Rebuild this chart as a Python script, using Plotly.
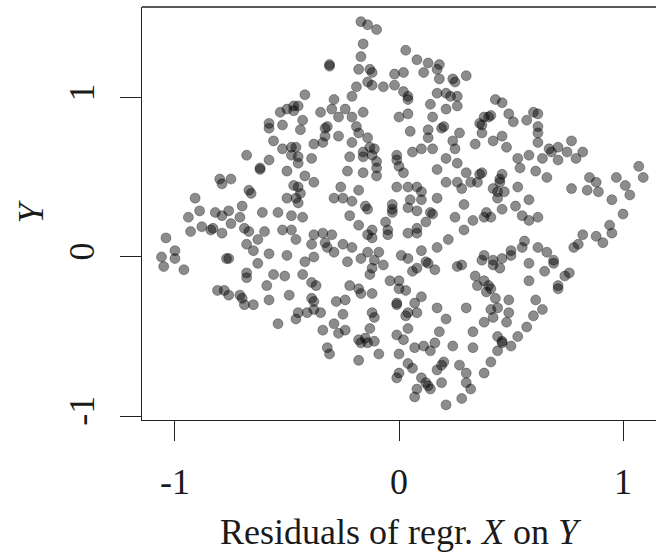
import plotly.graph_objects as go

# Residuals of regression of X on Y (horizontal) and Y (vertical)
x_resid = [
    -0.42, -0.53, -0.50, -0.47, -0.45, -0.47, -0.58, -0.58, -0.52, -0.43, -0.44, -0.56, -0.52, -0.48, -0.46, -0.48,
    -0.45, -0.38, -0.39, -0.68, -0.58, -0.62, -0.62, -0.50, -0.45, -0.42, -0.38, -0.80, -0.75, -0.79, -0.47, -0.45,
    -0.44, -0.46, -0.45, -0.50, -0.67, -0.66, -0.70, -0.91, -0.89, -0.94, -0.82, -0.79, -0.76, -0.71, -0.61, -0.54,
    -0.48, -0.43,
    -0.93, -0.88, -0.84, -0.83, -0.79, -0.75, -0.69, -0.67, -0.63, -0.68, -0.65, -0.60, -0.52, -0.48, -0.46, -0.39,
    -0.38, -1.04, -1.06, -1.05, -1.00, -1.00, -0.96, -0.77, -0.76, -0.58, -0.63, -0.50, -0.42, -0.38, -0.68, -0.68,
    -0.56, -0.51, -0.43, -0.39, -0.37, -0.59, -0.49, -0.58, -0.39, -0.81, -0.78, -0.76, -0.71, -0.70, -0.69, -0.65,
    -0.45, -0.41, -0.46, -0.38, -0.54,
    -0.17, -0.14, -0.10, -0.16, -0.17, 0.03, 0.08, 0.13, 0.18, 0.30, -0.31, -0.31, -0.18, -0.13, -0.12, -0.02,
    0.02, 0.11, 0.17, 0.18, 0.24, 0.25, -0.19, -0.14, -0.12, -0.07, -0.02, 0.02, 0.04, 0.04, 0.17, 0.21,
    0.23, 0.26, -0.21, -0.29, -0.30, -0.35, -0.24, -0.27, -0.16, -0.21, -0.19, -0.18, 0.00, 0.04, 0.05, 0.14,
    0.15, 0.21, 0.26, 0.19, 0.20, 0.13, 0.13, 0.27, 0.36, 0.38, -0.32, -0.33, -0.33, -0.34, -0.27, -0.21,
    -0.14, -0.13, -0.11, -0.12, -0.10, -0.10, -0.16, -0.16, -0.22, -0.23, -0.16, -0.10, -0.01, -0.01, 0.00, 0.02,
    0.06, 0.10, 0.15, 0.24, 0.25, 0.21, 0.26, 0.17, 0.30, 0.34, 0.37, -0.26, -0.18, -0.29, -0.25, -0.21,
    -0.15, -0.14, -0.22, -0.01, 0.04, 0.08, 0.10, 0.10, 0.05, 0.04, 0.08, 0.17, 0.21, 0.26, 0.28, 0.29,
    0.32, 0.35, 0.36, -0.03, -0.03, -0.03, 0.14, 0.15, 0.25,
    -0.18, -0.14, -0.12, -0.12, -0.06, -0.05, -0.05, 0.04, 0.08, 0.08, 0.12, 0.29, 0.33, 0.38, -0.34, -0.30,
    -0.33, -0.32, -0.29, -0.25, -0.21, -0.23, -0.17, -0.14, -0.09, -0.11, -0.07, -0.12, -0.13, 0.01, 0.04, 0.10,
    0.12, 0.13, 0.16, 0.08, 0.06, 0.17, 0.22, 0.26, 0.28, 0.34, 0.35, -0.04, 0.00, 0.00, 0.03, -0.22,
    -0.18, -0.17, -0.12, -0.01, -0.01, 0.04, 0.03, 0.08, 0.10, 0.07, 0.17, 0.21, 0.30, -0.12, -0.11, -0.13,
    -0.25, -0.28, -0.24, -0.29, -0.38, -0.35, -0.34, -0.27, -0.24, -0.32, -0.31, -0.17, -0.18, -0.15, -0.14, -0.11,
    -0.09, -0.18, -0.01, 0.02, 0.04, 0.00, 0.07, 0.11, 0.14, 0.16, 0.18, 0.24, 0.33, 0.33, 0.38, 0.04,
    0.06, 0.00, -0.01, 0.10, 0.12, 0.13, 0.14, 0.08, 0.07, 0.17, 0.19, 0.20, 0.19, 0.21, 0.27, 0.30,
    0.30, 0.32, 0.28, 0.38,
    0.43, 0.46, 0.40, 0.41, 0.37, 0.37, 0.49, 0.51, 0.57, 0.60, 0.62, 0.62, 0.62, 0.62, 0.42, 0.46,
    0.48, 0.53, 0.58, 0.54, 0.61, 0.66, 0.64, 0.67, 0.68, 0.71, 0.71, 0.77, 0.75, 0.79, 0.82, 0.46,
    0.45, 0.45, 0.42, 0.44, 0.47, 0.53, 0.44, 0.58, 0.52, 0.46, 0.39, 0.55, 0.62, 0.77, 0.85, 0.88,
    0.84, 0.89, 0.95, 0.97, 1.01, 1.03, 1.07, 1.09, 1.00,
    0.41, 0.58, 0.94, 0.95, 0.88, 0.91, 0.82, 0.80, 0.78, 0.56, 0.55, 0.50, 0.50, 0.46, 0.42, 0.38,
    0.42, 0.45, 0.37, 0.62, 0.66, 0.69, 0.69, 0.65, 0.58, 0.58, 0.76, 0.74, 0.71, 0.71, 0.38, 0.40,
    0.39, 0.41, 0.43, 0.44, 0.41, 0.49, 0.48, 0.49, 0.42, 0.61, 0.64, 0.60, 0.57, 0.53, 0.50, 0.46,
    0.44, 0.46, 0.44, 0.41,
]

y_vals = [
    1.02, 0.91, 0.93, 0.95, 0.95, 0.92, 0.84, 0.81, 0.83, 0.86, 0.80, 0.73, 0.68, 0.69, 0.69, 0.64,
    0.63, 0.71, 0.62, 0.64, 0.61, 0.56, 0.55, 0.54, 0.59, 0.51, 0.47, 0.49, 0.49, 0.46, 0.45, 0.44,
    0.40, 0.37, 0.34, 0.37, 0.42, 0.40, 0.32, 0.37, 0.29, 0.25, 0.28, 0.26, 0.29, 0.25, 0.28, 0.28,
    0.26, 0.25,
    0.16, 0.19, 0.17, 0.18, 0.15, 0.21, 0.18, 0.16, 0.11, 0.08, 0.04, 0.16, 0.17, 0.17, 0.11, 0.08,
    0.14, 0.12, 0.00, -0.06, 0.04, -0.01, -0.08, -0.01, -0.01, 0.02, -0.04, 0.01, -0.03, 0.00, -0.10, -0.13,
    -0.11, -0.12, -0.11, -0.16, -0.18, -0.18, -0.24, -0.27, -0.26, -0.21, -0.21, -0.24, -0.24, -0.26, -0.30, -0.30,
    -0.35, -0.35, -0.39, -0.33, -0.42,
    1.48, 1.46, 1.43, 1.34, 1.26, 1.30, 1.24, 1.22, 1.21, 1.14, 1.21, 1.20, 1.18, 1.18, 1.16, 1.15,
    1.16, 1.16, 1.18, 1.12, 1.12, 1.10, 1.07, 1.10, 1.08, 1.07, 1.08, 1.04, 0.99, 1.01, 1.03, 1.03,
    1.01, 1.01, 1.01, 0.99, 0.93, 0.91, 0.93, 0.88, 0.91, 0.88, 0.82, 0.78, 0.88, 0.90, 0.79, 0.96,
    0.88, 0.93, 0.95, 0.81, 0.82, 0.80, 0.75, 0.78, 0.84, 0.88, 0.82, 0.81, 0.76, 0.72, 0.76, 0.72,
    0.75, 0.69, 0.68, 0.64, 0.60, 0.56, 0.66, 0.63, 0.63, 0.54, 0.53, 0.51, 0.64, 0.61, 0.57, 0.53,
    0.66, 0.68, 0.68, 0.73, 0.68, 0.62, 0.59, 0.55, 0.53, 0.71, 0.53, 0.44, 0.42, 0.37, 0.37, 0.35,
    0.32, 0.30, 0.26, 0.44, 0.44, 0.44, 0.41, 0.36, 0.36, 0.31, 0.29, 0.37, 0.47, 0.47, 0.43, 0.33,
    0.47, 0.47, 0.52, 0.33, 0.30, 0.28, 0.28, 0.27, 0.25,
    0.20, 0.14, 0.12, 0.17, 0.22, 0.14, 0.17, 0.15, 0.18, 0.15, 0.22, 0.17, 0.23, 0.25, 0.15, 0.14,
    0.09, 0.06, 0.03, 0.08, 0.06, -0.03, -0.01, 0.03, 0.03, -0.02, -0.05, -0.07, -0.11, 0.01, -0.01, 0.04,
    -0.03, -0.04, -0.08, -0.07, -0.09, 0.06, 0.11, -0.06, -0.05, -0.12, -0.18, -0.15, -0.15, -0.20, -0.21, -0.18,
    -0.20, -0.23, -0.23, -0.29, -0.30, -0.35, -0.37, -0.35, -0.25, -0.29, -0.32, -0.39, -0.32, -0.35, -0.38, -0.45,
    -0.36, -0.28, -0.27, -0.42, -0.28, -0.35, -0.46, -0.48, -0.46, -0.57, -0.61, -0.54, -0.52, -0.51, -0.54, -0.53,
    -0.61, -0.65, -0.49, -0.52, -0.45, -0.61, -0.57, -0.56, -0.59, -0.54, -0.47, -0.56, -0.47, -0.57, -0.41, -0.67,
    -0.70, -0.73, -0.76, -0.76, -0.79, -0.81, -0.83, -0.83, -0.88, -0.71, -0.68, -0.66, -0.79, -0.93, -0.68, -0.73,
    -0.79, -0.83, -0.89, -0.73,
    0.99, 0.97, 0.88, 0.89, 0.83, 0.78, 0.90, 0.85, 0.86, 0.91, 0.90, 0.82, 0.78, 0.72, 0.73, 0.76,
    0.69, 0.62, 0.64, 0.56, 0.54, 0.50, 0.62, 0.68, 0.66, 0.69, 0.61, 0.73, 0.66, 0.62, 0.66, 0.52,
    0.49, 0.47, 0.43, 0.41, 0.41, 0.44, 0.37, 0.36, 0.32, 0.30, 0.28, 0.26, 0.25, 0.43, 0.50, 0.47,
    0.42, 0.41, 0.36, 0.50, 0.45, 0.39, 0.57, 0.50, 0.27,
    0.25, 0.23, 0.20, 0.15, 0.13, 0.09, 0.14, 0.08, 0.06, 0.10, 0.06, 0.04, 0.01, -0.01, -0.02, 0.01,
    -0.05, -0.07, -0.02, 0.06, 0.03, -0.02, -0.04, -0.09, -0.04, -0.15, -0.10, -0.12, -0.18, -0.20, -0.15, -0.18,
    -0.22, -0.20, -0.26, -0.32, -0.33, -0.35, -0.41, -0.27, -0.38, -0.27, -0.33, -0.37, -0.44, -0.50, -0.56, -0.54,
    -0.50, -0.53, -0.59, -0.66,
]

tick_vals = [-1, 0, 1]
tick_text = ["-1", "0", "1"]

n = min(len(x_resid), len(y_vals))

serif = "Liberation Serif, Times New Roman, serif"

fig = go.Figure(
    go.Scatter(
        x=x_resid[:n],
        y=y_vals[:n],
        mode="markers",
        marker=dict(
            size=10,
            color="rgba(0,0,0,0.45)",
            line=dict(color="rgba(0,0,0,0.3)", width=1),
        ),
        hoverinfo="skip",
    )
)

fig.update_layout(
    width=656,
    height=553,
    margin=dict(l=142, r=0, t=7, b=133),
    paper_bgcolor="white",
    plot_bgcolor="white",
    showlegend=False,
    font=dict(family=serif, size=36, color="#1a1a1a"),
    shapes=[
        dict(type="line", xref="paper", yref="paper", x0=0, x1=1, y0=1, y1=1,
             line=dict(color="#222", width=1.3)),
    ],
)

fig.update_xaxes(
    range=[-1.147, 1.147],
    tickvals=tick_vals,
    ticktext=tick_text,
    ticks="outside",
    ticklen=20,
    tickwidth=1.3,
    tickcolor="#222",
    ticklabelstandoff=10,
    showline=True,
    linecolor="#222",
    linewidth=1.3,
    showgrid=False,
    zeroline=False,
    tickfont=dict(family=serif, size=36, color="#1a1a1a"),
    title=dict(text="Residuals of regr. <i>X</i> on <i>Y</i>",
               font=dict(family=serif, size=36, color="#1a1a1a"), standoff=17),
)

fig.update_yaxes(
    range=[-1.025, 1.572],
    tickvals=tick_vals,
    ticktext=tick_text,
    tickangle=-90,
    ticks="outside",
    ticklen=21,
    tickwidth=1.3,
    tickcolor="#222",
    ticklabelstandoff=11,
    showline=True,
    linecolor="#222",
    linewidth=1.3,
    showgrid=False,
    zeroline=False,
    tickfont=dict(family=serif, size=36, color="#1a1a1a"),
    title=dict(text="<i>Y</i>", font=dict(family=serif, size=36, color="#1a1a1a"), standoff=7),
)

fig.write_html("out.html")
